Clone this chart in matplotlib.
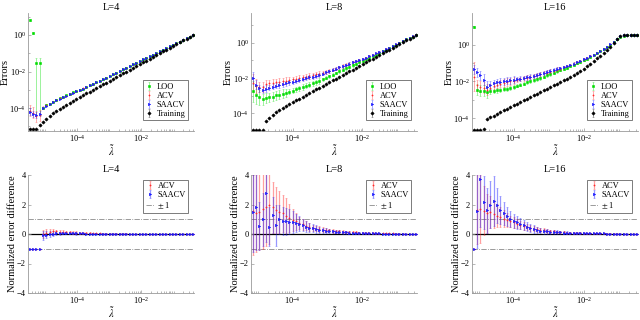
import numpy as np
import matplotlib
matplotlib.use("Agg")
import matplotlib.pyplot as plt
from matplotlib.ticker import LogLocator, NullFormatter, FixedLocator
from matplotlib.colors import to_rgba

plt.rcParams["font.family"] = ["Liberation Serif", "DejaVu Serif"]
plt.rcParams["mathtext.fontset"] = "stix"
plt.rcParams["font.size"] = 7

# lambda grids (50 log-spaced values per L)
lam4 = np.logspace(-5.47, -0.39, 50)
lam8 = np.logspace(-5.15, -0.46, 50)
lam16 = np.logspace(-5.14, -0.48, 50)

# ---------------- top row: errors, stored as log10 values ----------------
# L=4
loo4 = [0.82, 0.09, -1.55, -1.55, -3.98, -3.85, -3.75, -3.64, -3.54, -3.46,
        -3.38, -3.30, -3.22, -3.14, -3.07, -2.99, -2.93, -2.85, -2.76, -2.68,
        -2.59, -2.50, -2.42, -2.33, -2.24, -2.15, -2.06, -1.97, -1.88, -1.79,
        -1.69, -1.60, -1.51, -1.43, -1.34, -1.25, -1.17, -1.08, -0.99, -0.90,
        -0.81, -0.72, -0.63, -0.54, -0.45, -0.36, -0.27, -0.18, -0.09, 0.00]
loo4_dn = [0.05, 0.05, 2.82, 2.82, 0.05, 0.05, 0.04, 0.04, 0.04, 0.04,
           0.03, 0.03, 0.03, 0.03, 0.03, 0.03, 0.03, 0.03, 0.03, 0.03,
           0.02, 0.02, 0.02, 0.02, 0.02, 0.02, 0.02, 0.02, 0.02, 0.02,
           0.02, 0.02, 0.02, 0.02, 0.02, 0.02, 0.02, 0.02, 0.02, 0.02,
           0.02, 0.02, 0.02, 0.02, 0.02, 0.02, 0.02, 0.02, 0.02, 0.02]
loo4_up = [0.05, 0.05, 0.31, 0.31, 0.05, 0.05, 0.04, 0.04, 0.04, 0.04,
           0.03, 0.03, 0.03, 0.03, 0.03, 0.03, 0.03, 0.03, 0.03, 0.03,
           0.02, 0.02, 0.02, 0.02, 0.02, 0.02, 0.02, 0.02, 0.02, 0.02,
           0.02, 0.02, 0.02, 0.02, 0.02, 0.02, 0.02, 0.02, 0.02, 0.02,
           0.02, 0.02, 0.02, 0.02, 0.02, 0.02, 0.02, 0.02, 0.02, 0.02]
acv4 = [-4.15, -4.25, -4.45, -4.38, -3.98, -3.85, -3.75, -3.64, -3.55, -3.47,
        -3.39, -3.31, -3.23, -3.15, -3.08, -3.00, -2.92, -2.84, -2.76, -2.68,
        -2.59, -2.50, -2.42, -2.33, -2.24, -2.15, -2.06, -1.97, -1.88, -1.79,
        -1.69, -1.60, -1.51, -1.43, -1.34, -1.25, -1.17, -1.08, -0.99, -0.90,
        -0.81, -0.72, -0.63, -0.54, -0.45, -0.36, -0.27, -0.18, -0.09, 0.00]
acv4_err = [0.30, 0.30, 0.30, 0.30, 0.07, 0.06, 0.05, 0.05, 0.04, 0.04,
            0.03, 0.03, 0.03, 0.03, 0.03, 0.03, 0.03, 0.03, 0.03, 0.03,
            0.02, 0.02, 0.02, 0.02, 0.02, 0.02, 0.02, 0.02, 0.02, 0.02,
            0.02, 0.02, 0.02, 0.02, 0.02, 0.02, 0.02, 0.02, 0.02, 0.02,
            0.02, 0.02, 0.02, 0.02, 0.02, 0.02, 0.02, 0.02, 0.02, 0.02]
saacv4 = [-4.20, -4.32, -4.38, -4.30, -4.00, -3.87, -3.77, -3.66, -3.56, -3.48,
          -3.40, -3.32, -3.24, -3.16, -3.09, -3.01, -2.93, -2.85, -2.76, -2.68,
          -2.59, -2.50, -2.42, -2.33, -2.24, -2.15, -2.06, -1.97, -1.88, -1.79,
          -1.69, -1.60, -1.51, -1.43, -1.34, -1.25, -1.17, -1.08, -0.99, -0.90,
          -0.81, -0.72, -0.63, -0.54, -0.45, -0.36, -0.27, -0.18, -0.09, 0.00]
saacv4_err = [0.18, 0.15, 0.15, 0.15, 0.06, 0.05, 0.05, 0.04, 0.04, 0.04,
              0.03, 0.03, 0.03, 0.03, 0.03, 0.03, 0.03, 0.03, 0.03, 0.03,
              0.02, 0.02, 0.02, 0.02, 0.02, 0.02, 0.02, 0.02, 0.02, 0.02,
              0.02, 0.02, 0.02, 0.02, 0.02, 0.02, 0.02, 0.02, 0.02, 0.02,
              0.02, 0.02, 0.02, 0.02, 0.02, 0.02, 0.02, 0.02, 0.02, 0.02]
train4 = [-5.14, -5.14, -5.14, -4.92, -4.74, -4.57, -4.43, -4.28, -4.14, -4.03,
          -3.92, -3.81, -3.70, -3.60, -3.50, -3.40, -3.30, -3.20, -3.10, -3.00,
          -2.90, -2.80, -2.70, -2.60, -2.50, -2.40, -2.30, -2.20, -2.10, -2.00,
          -1.90, -1.80, -1.70, -1.60, -1.50, -1.40, -1.30, -1.20, -1.10, -1.00,
          -0.90, -0.80, -0.70, -0.60, -0.50, -0.40, -0.30, -0.20, -0.10, 0.00]
train4_err = [0.00, 0.00, 0.00, 0.03, 0.03, 0.03, 0.03, 0.02, 0.02, 0.02,
              0.02, 0.02, 0.02, 0.02, 0.02, 0.02, 0.02, 0.02, 0.02, 0.02,
              0.02, 0.02, 0.02, 0.02, 0.02, 0.02, 0.02, 0.02, 0.02, 0.02,
              0.02, 0.02, 0.02, 0.02, 0.02, 0.02, 0.02, 0.02, 0.02, 0.02,
              0.02, 0.02, 0.02, 0.02, 0.02, 0.02, 0.02, 0.02, 0.02, 0.02]

# L=8
loo8 = [-2.75, -2.95, -3.10, -3.20, -3.15, -3.10, -3.05, -2.99, -2.94, -2.89,
        -2.85, -2.78, -2.71, -2.64, -2.58, -2.51, -2.44, -2.37, -2.31, -2.24,
        -2.17, -2.08, -1.99, -1.90, -1.81, -1.72, -1.63, -1.54, -1.45, -1.36,
        -1.27, -1.19, -1.11, -1.02, -0.94, -0.84, -0.76, -0.67, -0.58, -0.49,
        -0.41, -0.31, -0.21, -0.11, -0.02, 0.09, 0.18, 0.26, 0.34, 0.43]
loo8_err = [0.60, 0.50, 0.40, 0.30, 0.28, 0.25, 0.25, 0.25, 0.25, 0.25,
            0.25, 0.15, 0.15, 0.15, 0.15, 0.15, 0.15, 0.15, 0.15, 0.15,
            0.15, 0.08, 0.08, 0.08, 0.08, 0.08, 0.08, 0.08, 0.08, 0.08,
            0.08, 0.05, 0.05, 0.05, 0.05, 0.05, 0.05, 0.05, 0.05, 0.05,
            0.05, 0.03, 0.03, 0.03, 0.03, 0.03, 0.03, 0.03, 0.03, 0.03]
acv8 = [-2.30, -2.45, -2.50, -2.50, -2.35, -2.30, -2.27, -2.24, -2.21, -2.18,
        -2.15, -2.12, -2.08, -2.04, -2.00, -1.96, -1.92, -1.88, -1.84, -1.79,
        -1.75, -1.70, -1.65, -1.59, -1.53, -1.47, -1.40, -1.33, -1.26, -1.19,
        -1.12, -1.05, -0.98, -0.91, -0.84, -0.76, -0.69, -0.61, -0.53, -0.45,
        -0.37, -0.28, -0.18, -0.09, 0.00, 0.10, 0.19, 0.27, 0.35, 0.44]
acv8_err = [0.50, 0.40, 0.30, 0.30, 0.25, 0.20, 0.20, 0.20, 0.20, 0.20,
            0.20, 0.15, 0.15, 0.15, 0.15, 0.15, 0.15, 0.15, 0.15, 0.15,
            0.15, 0.10, 0.10, 0.10, 0.10, 0.10, 0.10, 0.10, 0.10, 0.10,
            0.10, 0.05, 0.05, 0.05, 0.05, 0.05, 0.05, 0.05, 0.05, 0.05,
            0.05, 0.03, 0.03, 0.03, 0.03, 0.03, 0.03, 0.03, 0.03, 0.03]
saacv8 = [-2.01, -2.39, -2.58, -2.67, -2.60, -2.55, -2.50, -2.44, -2.39, -2.34,
          -2.30, -2.25, -2.20, -2.15, -2.11, -2.06, -2.01, -1.96, -1.92, -1.87,
          -1.82, -1.75, -1.68, -1.61, -1.54, -1.47, -1.40, -1.33, -1.26, -1.19,
          -1.12, -1.05, -0.98, -0.91, -0.84, -0.76, -0.69, -0.61, -0.53, -0.45,
          -0.37, -0.28, -0.18, -0.09, 0.00, 0.10, 0.19, 0.27, 0.35, 0.44]
saacv8_err = [0.35, 0.25, 0.20, 0.20, 0.18, 0.15, 0.15, 0.15, 0.15, 0.15,
              0.15, 0.12, 0.12, 0.12, 0.12, 0.12, 0.12, 0.12, 0.12, 0.12,
              0.12, 0.08, 0.08, 0.08, 0.08, 0.08, 0.08, 0.08, 0.08, 0.08,
              0.08, 0.05, 0.05, 0.05, 0.05, 0.05, 0.05, 0.05, 0.05, 0.05,
              0.05, 0.03, 0.03, 0.03, 0.03, 0.03, 0.03, 0.03, 0.03, 0.03]
train8 = [-4.93, -4.93, -4.93, -4.93, -4.45, -4.25, -4.08, -3.94, -3.81, -3.69,
          -3.58, -3.47, -3.37, -3.27, -3.17, -3.07, -2.96, -2.86, -2.76, -2.65,
          -2.55, -2.45, -2.34, -2.24, -2.14, -2.04, -1.93, -1.83, -1.73, -1.62,
          -1.52, -1.42, -1.31, -1.21, -1.11, -1.00, -0.90, -0.80, -0.69, -0.59,
          -0.49, -0.39, -0.28, -0.18, -0.08, 0.03, 0.13, 0.23, 0.34, 0.44]
train8_err = [0.00, 0.00, 0.00, 0.00, 0.03, 0.03, 0.03, 0.03, 0.02, 0.02,
              0.02, 0.02, 0.02, 0.02, 0.02, 0.02, 0.02, 0.02, 0.02, 0.02,
              0.02, 0.02, 0.02, 0.02, 0.02, 0.02, 0.02, 0.02, 0.02, 0.02,
              0.02, 0.02, 0.02, 0.02, 0.02, 0.02, 0.02, 0.02, 0.02, 0.02,
              0.02, 0.02, 0.02, 0.02, 0.02, 0.02, 0.02, 0.02, 0.02, 0.02]

# L=16
loo16 = [0.95, -2.45, -2.50, -2.52, -2.58, -2.55, -2.52, -2.49, -2.46, -2.43,
         -2.41, -2.36, -2.31, -2.25, -2.19, -2.12, -2.06, -2.00, -1.94, -1.88,
         -1.82, -1.75, -1.68, -1.61, -1.54, -1.46, -1.39, -1.32, -1.25, -1.18,
         -1.10, -1.02, -0.93, -0.85, -0.76, -0.66, -0.57, -0.47, -0.36, -0.25,
         -0.14, -0.01, 0.14, 0.32, 0.44, 0.49, 0.51, 0.51, 0.51, 0.50]
loo16_err = [0.05, 0.30, 0.30, 0.30, 0.30, 0.12, 0.12, 0.12, 0.12, 0.12,
             0.12, 0.12, 0.12, 0.08, 0.08, 0.08, 0.08, 0.08, 0.08, 0.08,
             0.08, 0.08, 0.08, 0.08, 0.08, 0.08, 0.05, 0.05, 0.05, 0.05,
             0.05, 0.05, 0.05, 0.05, 0.05, 0.05, 0.03, 0.03, 0.03, 0.03,
             0.03, 0.03, 0.03, 0.03, 0.03, 0.03, 0.03, 0.03, 0.03, 0.03]
acv16 = [-1.75, -2.20, -2.30, -2.35, -2.45, -2.35, -2.25, -2.18, -2.12, -2.08,
         -2.04, -2.00, -1.96, -1.92, -1.88, -1.84, -1.80, -1.76, -1.72, -1.67,
         -1.62, -1.57, -1.52, -1.47, -1.42, -1.36, -1.30, -1.24, -1.18, -1.12,
         -1.03, -0.96, -0.88, -0.80, -0.72, -0.63, -0.54, -0.44, -0.34, -0.23,
         -0.12, 0.01, 0.15, 0.33, 0.45, 0.50, 0.52, 0.52, 0.52, 0.51]
acv16_err = [0.80, 0.30, 0.30, 0.30, 0.30, 0.20, 0.20, 0.20, 0.20, 0.20,
             0.20, 0.20, 0.20, 0.12, 0.12, 0.12, 0.12, 0.12, 0.12, 0.12,
             0.12, 0.12, 0.12, 0.12, 0.12, 0.12, 0.07, 0.07, 0.07, 0.07,
             0.07, 0.07, 0.07, 0.07, 0.07, 0.07, 0.03, 0.03, 0.03, 0.03,
             0.03, 0.03, 0.03, 0.03, 0.03, 0.03, 0.03, 0.03, 0.03, 0.03]
saacv16 = [-1.35, -1.50, -1.68, -1.90, -2.30, -2.20, -2.10, -2.05, -2.02, -2.00,
           -1.97, -1.94, -1.91, -1.88, -1.85, -1.82, -1.78, -1.74, -1.70, -1.65,
           -1.60, -1.55, -1.50, -1.45, -1.40, -1.34, -1.28, -1.22, -1.16, -1.10,
           -1.03, -0.96, -0.88, -0.80, -0.72, -0.63, -0.54, -0.44, -0.34, -0.23,
           -0.12, 0.01, 0.15, 0.33, 0.45, 0.50, 0.52, 0.52, 0.52, 0.51]
saacv16_err = [0.25, 0.25, 0.25, 0.30, 0.30, 0.20, 0.20, 0.20, 0.20, 0.20,
               0.20, 0.20, 0.20, 0.12, 0.12, 0.12, 0.12, 0.12, 0.12, 0.12,
               0.12, 0.12, 0.12, 0.12, 0.12, 0.12, 0.07, 0.07, 0.07, 0.07,
               0.07, 0.07, 0.07, 0.07, 0.07, 0.07, 0.03, 0.03, 0.03, 0.03,
               0.03, 0.03, 0.03, 0.03, 0.03, 0.03, 0.03, 0.03, 0.03, 0.03]
train16 = [-4.66, -4.66, -4.66, -4.57, -4.05, -3.93, -3.86, -3.75, -3.67, -3.58,
           -3.50, -3.41, -3.31, -3.22, -3.12, -3.03, -2.94, -2.85, -2.76, -2.67,
           -2.58, -2.49, -2.40, -2.31, -2.22, -2.13, -2.04, -1.95, -1.86, -1.77,
           -1.68, -1.56, -1.43, -1.30, -1.17, -1.04, -0.90, -0.75, -0.60, -0.45,
           -0.31, -0.12, 0.10, 0.32, 0.45, 0.50, 0.52, 0.52, 0.52, 0.51]
train16_err = [0.00, 0.00, 0.00, 0.00, 0.03, 0.03, 0.03, 0.03, 0.02, 0.02,
               0.02, 0.02, 0.02, 0.02, 0.02, 0.02, 0.02, 0.02, 0.02, 0.02,
               0.02, 0.02, 0.02, 0.02, 0.02, 0.02, 0.02, 0.02, 0.02, 0.02,
               0.02, 0.02, 0.02, 0.02, 0.02, 0.02, 0.02, 0.02, 0.02, 0.02,
               0.02, 0.02, 0.02, 0.02, 0.02, 0.02, 0.02, 0.02, 0.02, 0.02]

# ---------------- bottom row: normalized error difference ----------------
acv4d = [-1.00, -1.00, -1.00, -1.00, 0.00, 0.10, 0.15, 0.17, 0.17, 0.15,
         0.15, 0.13, 0.12, 0.10, 0.09, 0.08, 0.07, 0.06, 0.05, 0.05,
         0.04, 0.04, 0.03, 0.03, 0.03, 0.02, 0.02, 0.02, 0.02, 0.01,
         0.01, 0.01, 0.01, 0.01, 0.01, 0.01, 0.01, 0.01, 0.01, 0.01,
         0.01, 0.01, 0.01, 0.01, 0.01, 0.01, 0.01, 0.01, 0.01, 0.01]
acv4d_err = [0.00, 0.00, 0.00, 0.00, 0.30, 0.25, 0.18, 0.15, 0.13, 0.12,
             0.10, 0.08, 0.08, 0.08, 0.08, 0.07, 0.06, 0.06, 0.06, 0.05,
             0.05, 0.04, 0.04, 0.04, 0.04, 0.03, 0.03, 0.03, 0.03, 0.03,
             0.02, 0.02, 0.02, 0.02, 0.02, 0.02, 0.02, 0.02, 0.02, 0.02,
             0.02, 0.02, 0.02, 0.02, 0.02, 0.02, 0.02, 0.02, 0.02, 0.02]
saacv4d = [-1.00, -1.00, -1.00, -1.00, -0.10, -0.05, 0.00, 0.03, 0.05, 0.06,
           0.06, 0.05, 0.05, 0.05, 0.04, 0.04, 0.04, 0.03, 0.03, 0.03,
           0.02, 0.02, 0.02, 0.02, 0.02, 0.02, 0.02, 0.02, 0.02, 0.02,
           0.01, 0.01, 0.01, 0.01, 0.01, 0.01, 0.01, 0.01, 0.01, 0.01,
           0.00, 0.00, 0.00, 0.00, 0.00, 0.00, 0.00, 0.00, 0.00, 0.00]
saacv4d_err = [0.00, 0.00, 0.00, 0.00, 0.32, 0.25, 0.20, 0.15, 0.12, 0.10,
               0.08, 0.08, 0.08, 0.08, 0.08, 0.06, 0.06, 0.06, 0.06, 0.06,
               0.04, 0.04, 0.04, 0.04, 0.04, 0.04, 0.04, 0.04, 0.04, 0.04,
               0.02, 0.02, 0.02, 0.02, 0.02, 0.02, 0.02, 0.02, 0.02, 0.02,
               0.01, 0.01, 0.01, 0.01, 0.01, 0.01, 0.01, 0.01, 0.01, 0.01]

acv8d = [1.55, 1.40, 1.50, 1.70, 1.80, 2.00, 1.80, 1.65, 1.50, 1.40,
         1.25, 1.10, 0.95, 0.85, 0.75, 0.65, 0.55, 0.48, 0.42, 0.37,
         0.33, 0.30, 0.27, 0.24, 0.21, 0.19, 0.17, 0.15, 0.14, 0.13,
         0.12, 0.11, 0.10, 0.09, 0.08, 0.08, 0.07, 0.06, 0.06, 0.05,
         0.05, 0.04, 0.04, 0.03, 0.03, 0.03, 0.02, 0.02, 0.02, 0.02]
acv8d_err = [3.00, 2.60, 2.60, 2.70, 2.60, 2.70, 1.70, 1.55, 1.40, 1.25,
             1.20, 0.95, 0.75, 0.55, 0.42, 0.35, 0.30, 0.26, 0.22, 0.20,
             0.18, 0.16, 0.14, 0.13, 0.12, 0.11, 0.10, 0.09, 0.08, 0.07,
             0.06, 0.06, 0.05, 0.05, 0.04, 0.04, 0.04, 0.03, 0.03, 0.03,
             0.03, 0.02, 0.02, 0.02, 0.02, 0.02, 0.01, 0.01, 0.01, 0.01]
saacv8d = [1.50, 1.85, 0.55, 1.00, 2.75, 0.50, 1.30, 0.60, 1.00, 0.90,
           0.85, 0.82, 0.80, 0.75, 0.70, 0.60, 0.50, 0.42, 0.38, 0.34,
           0.30, 0.26, 0.23, 0.20, 0.18, 0.16, 0.14, 0.12, 0.11, 0.10,
           0.09, 0.08, 0.07, 0.06, 0.06, 0.05, 0.05, 0.04, 0.04, 0.03,
           0.03, 0.03, 0.02, 0.02, 0.02, 0.02, 0.01, 0.01, 0.01, 0.01]
saacv8d_err = [2.70, 2.95, 1.65, 1.80, 3.30, 1.30, 1.20, 1.40, 1.00, 0.95,
               0.90, 0.85, 0.75, 0.60, 0.50, 0.40, 0.35, 0.30, 0.27, 0.24,
               0.20, 0.18, 0.16, 0.14, 0.12, 0.11, 0.10, 0.09, 0.08, 0.07,
               0.06, 0.06, 0.05, 0.05, 0.04, 0.04, 0.04, 0.03, 0.03, 0.03,
               0.03, 0.02, 0.02, 0.02, 0.02, 0.02, 0.01, 0.01, 0.01, 0.01]

acv16d = [-1.00, 1.65, 1.70, 1.58, 1.40, 1.50, 1.35, 1.25, 1.15, 1.05,
          0.95, 0.85, 0.78, 0.70, 0.62, 0.55, 0.48, 0.42, 0.37, 0.32,
          0.28, 0.25, 0.22, 0.19, 0.17, 0.15, 0.13, 0.12, 0.10, 0.09,
          0.08, 0.08, 0.07, 0.06, 0.06, 0.05, 0.05, 0.04, 0.04, 0.04,
          0.03, 0.03, 0.03, 0.02, 0.02, 0.02, 0.02, 0.01, 0.01, 0.01]
acv16d_err = [0.00, 2.35, 2.30, 1.65, 1.30, 1.10, 0.95, 0.80, 0.65, 0.55,
              0.45, 0.40, 0.35, 0.30, 0.28, 0.25, 0.22, 0.20, 0.18, 0.16,
              0.14, 0.13, 0.12, 0.10, 0.09, 0.08, 0.07, 0.07, 0.06, 0.05,
              0.05, 0.04, 0.04, 0.04, 0.03, 0.03, 0.03, 0.03, 0.02, 0.02,
              0.02, 0.02, 0.02, 0.02, 0.01, 0.01, 0.01, 0.01, 0.01, 0.01]
saacv16d = [-1.00, 1.58, 3.70, 2.15, 1.60, 2.00, 2.25, 1.95, 1.65, 1.40,
            1.20, 1.00, 0.88, 0.78, 0.70, 0.60, 0.50, 0.42, 0.34, 0.28,
            0.23, 0.20, 0.18, 0.16, 0.14, 0.13, 0.12, 0.10, 0.09, 0.08,
            0.08, 0.07, 0.07, 0.06, 0.06, 0.05, 0.05, 0.04, 0.04, 0.04,
            0.03, 0.03, 0.03, 0.02, 0.02, 0.02, 0.01, 0.01, 0.01, 0.01]
saacv16d_err = [0.00, 2.50, 3.20, 1.80, 1.50, 1.60, 1.70, 1.20, 0.95, 0.80,
                0.65, 0.55, 0.48, 0.42, 0.38, 0.33, 0.30, 0.27, 0.24, 0.21,
                0.19, 0.17, 0.15, 0.13, 0.12, 0.11, 0.10, 0.09, 0.08, 0.07,
                0.06, 0.06, 0.05, 0.05, 0.04, 0.04, 0.04, 0.03, 0.03, 0.03,
                0.03, 0.02, 0.02, 0.02, 0.02, 0.02, 0.01, 0.01, 0.01, 0.01]

titles = ["L=4", "L=8", "L=16"]

GREEN = "#00dd00"
RED = "#ff2a2a"
BLUE = "#1a1aff"
AXIS_GRAY = "#9a9a9a"


def log_bars(ax, x, m, dn, up, color, marker, label):
    m = np.asarray(m)
    y = 10.0 ** m
    lo = y - 10.0 ** (m - np.asarray(dn))
    hi = 10.0 ** (m + np.asarray(up)) - y
    ax.errorbar(x, y, yerr=[lo, hi], fmt=marker, ms=1.7, color=color, mec=color,
                mfc=color, mew=0.4, ecolor=to_rgba(color, 0.45), elinewidth=0.6,
                capsize=1.0, capthick=0.6, label=label)


def lin_bars(ax, x, m, err, color, marker, label):
    return ax.errorbar(x, m, yerr=err, fmt=marker, ms=1.7, color=color, mec=color,
                       mfc=color, mew=0.4, ecolor=to_rgba(color, 0.45),
                       elinewidth=0.9, capsize=1.0, capthick=0.7, label=label)


def style(ax, lam):
    ax.set_xscale("log")
    span = np.log10(lam[-1]) - np.log10(lam[0])
    ax.set_xlim(lam[0] / 10 ** (0.01 * span), lam[-1] * 10 ** (0.005 * span))
    ax.xaxis.set_major_locator(FixedLocator([1e-4, 1e-2]))
    ax.xaxis.set_minor_locator(LogLocator(base=10, subs=np.arange(1, 10), numticks=60))
    ax.xaxis.set_minor_formatter(NullFormatter())
    for s in ["top", "right"]:
        ax.spines[s].set_visible(False)
    for s in ["left", "bottom"]:
        ax.spines[s].set_color(AXIS_GRAY)
        ax.spines[s].set_linewidth(0.6)
    ax.tick_params(which="both", direction="in", color=AXIS_GRAY, labelcolor="black",
                   labelsize=6, width=0.5, pad=1.5)
    ax.tick_params(which="major", length=2.5)
    ax.tick_params(which="minor", length=1.5)
    ax.set_xlabel(r"$\tilde{\lambda}$", fontsize=7.5, labelpad=-1)


fig = plt.figure(figsize=(6.4, 3.2), dpi=100)
lefts = [28 / 640, 251 / 640, 472 / 640]
width = 166 / 640
height = 118 / 320

lams = [lam4, lam8, lam16]
top_data = [
    (loo4, loo4_dn, loo4_up, acv4, acv4_err, saacv4, saacv4_err, train4, train4_err),
    (loo8, loo8_err, loo8_err, acv8, acv8_err, saacv8, saacv8_err, train8, train8_err),
    (loo16, loo16_err, loo16_err, acv16, acv16_err, saacv16, saacv16_err, train16, train16_err),
]
top_ylims = [(10 ** -5.25, 10 ** 1.2), (10 ** -5.0, 10 ** 1.68), (10 ** -4.7, 10 ** 1.72)]
bottom_data = [
    (acv4d, acv4d_err, saacv4d, saacv4d_err),
    (acv8d, acv8d_err, saacv8d, saacv8d_err),
    (acv16d, acv16d_err, saacv16d, saacv16d_err),
]

for k in range(3):
    lam = lams[k]
    # top: errors
    ax = fig.add_axes([lefts[k], 1 - 131 / 320, width, height])
    loo, loo_dn, loo_up, acv, acv_e, saacv, saacv_e, tr, tr_e = top_data[k]
    ax.set_yscale("log")
    log_bars(ax, lam, loo, loo_dn, loo_up, GREEN, "s", "LOO")
    log_bars(ax, lam, acv, acv_e, acv_e, RED, ".", "ACV")
    log_bars(ax, lam, saacv, saacv_e, saacv_e, BLUE, ">", "SAACV")
    log_bars(ax, lam, tr, tr_e, tr_e, "black", "D", "Training")
    ax.set_ylim(*top_ylims[k])
    ax.yaxis.set_major_locator(FixedLocator([1e-4, 1e-2, 1e0]))
    ax.yaxis.set_minor_locator(LogLocator(base=10, subs=(1.0,), numticks=20))
    ax.yaxis.set_minor_formatter(NullFormatter())
    style(ax, lam)
    ax.set_ylabel("Errors", fontsize=7.5, labelpad=0)
    ax.set_title(titles[k], fontsize=7.5, pad=2)
    leg = ax.legend(loc="lower right", bbox_to_anchor=(0.965, 0.09), fontsize=6,
                    frameon=True, fancybox=False, edgecolor="#666666", framealpha=1,
                    borderpad=0.3, labelspacing=0.12, handlelength=1.0,
                    handletextpad=0.4, borderaxespad=0.0)
    leg.get_frame().set_linewidth(0.6)

    # bottom: normalized error difference
    axb = fig.add_axes([lefts[k], 1 - 293 / 320, width, height])
    acvd, acvd_e, saacvd, saacvd_e = bottom_data[k]
    axb.axhline(0, color="black", lw=0.9, zorder=1)
    pm = axb.axhline(1, color="#8a8a8a", lw=0.6, ls="-.", zorder=1)
    axb.axhline(-1, color="#8a8a8a", lw=0.6, ls="-.", zorder=1)
    h1 = lin_bars(axb, lam, acvd, acvd_e, RED, ".", "ACV")
    h2 = lin_bars(axb, lam, saacvd, saacvd_e, BLUE, ">", "SAACV")
    axb.set_ylim(-4, 4)
    axb.set_yticks([-4, -2, 0, 2, 4])
    style(axb, lam)
    axb.set_ylabel("Normalized error difference", fontsize=7.5, labelpad=0)
    axb.set_title(titles[k], fontsize=7.5, pad=2)
    legb = axb.legend([h1, h2, pm], ["ACV", "SAACV", r"$\pm$ 1"], loc="upper right",
                      bbox_to_anchor=(0.965, 0.96), fontsize=6, frameon=True,
                      fancybox=False, edgecolor="#666666", framealpha=1,
                      borderpad=0.3, labelspacing=0.12, handlelength=1.0,
                      handletextpad=0.4, borderaxespad=0.0)
    legb.get_frame().set_linewidth(0.6)

fig.savefig("out.png", dpi=100)
